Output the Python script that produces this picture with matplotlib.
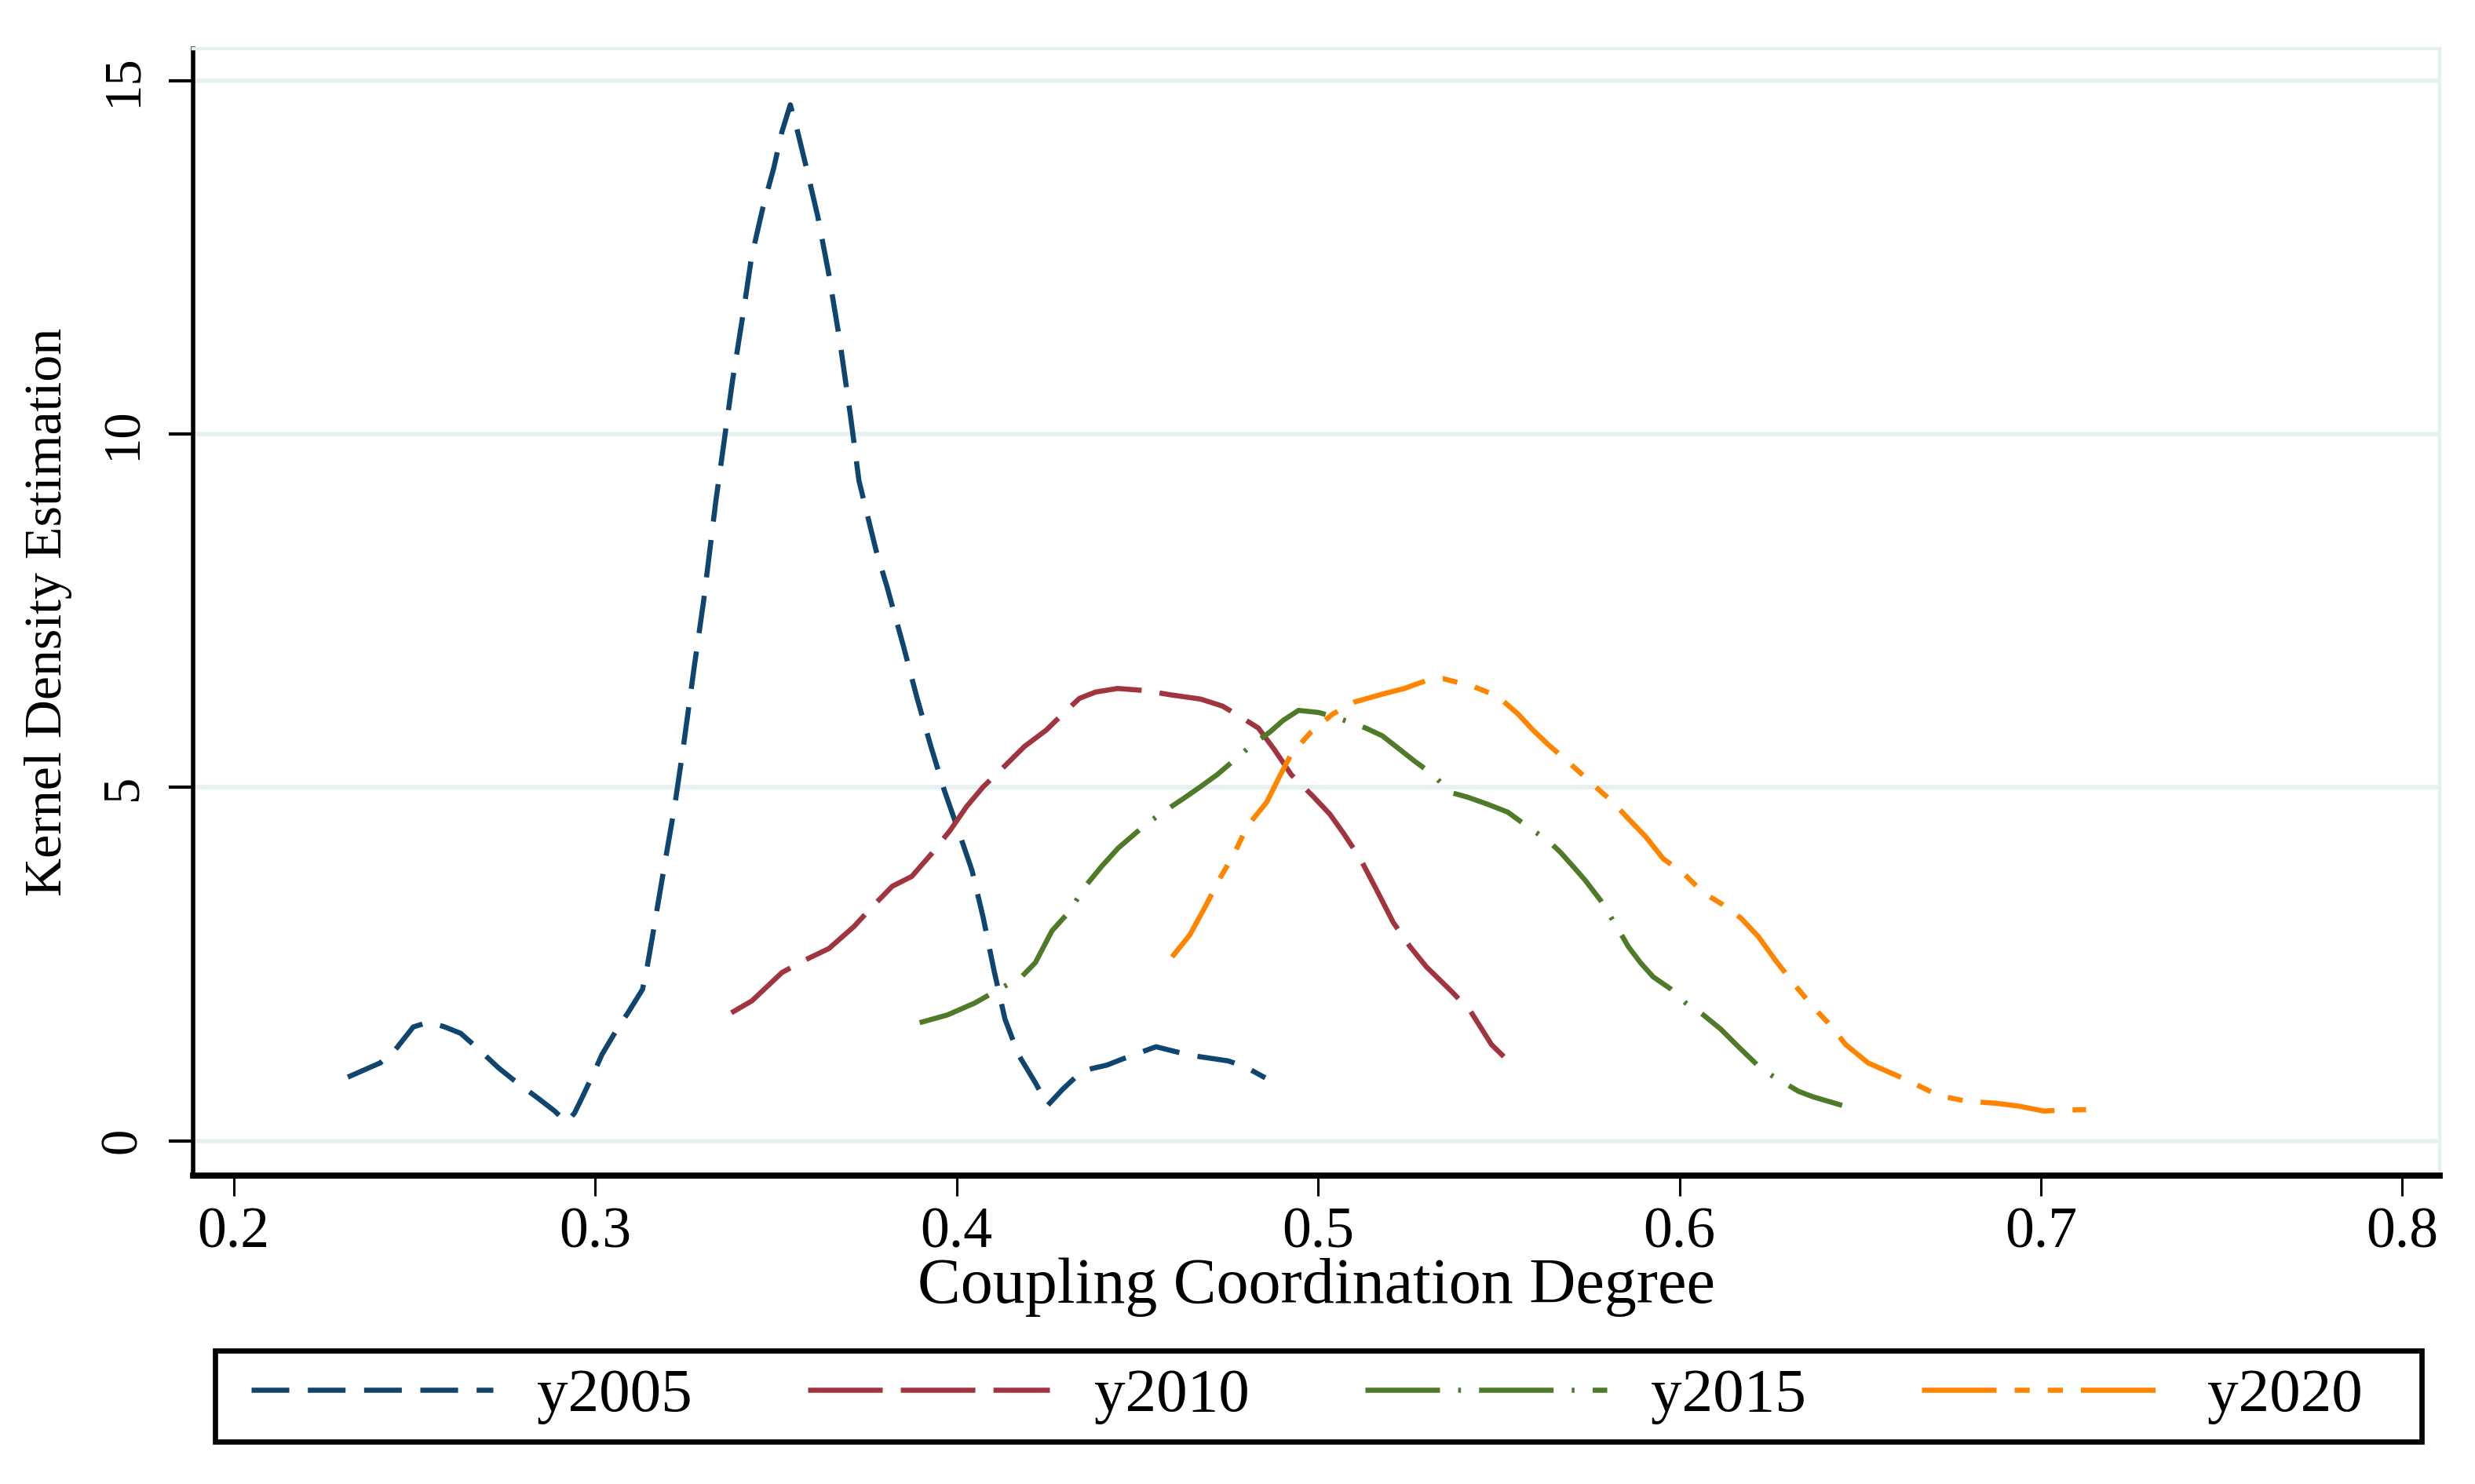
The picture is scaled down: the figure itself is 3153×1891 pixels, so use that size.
import matplotlib
matplotlib.use("Agg")
import matplotlib.pyplot as plt
from matplotlib.path import Path

plt.rcParams['font.family'] = ['Liberation Serif', 'DejaVu Serif']
plt.rcParams['lines.scale_dashes'] = False

# ---- data ----
x2005 = [0.2316, 0.2405, 0.2443, 0.2497, 0.2541, 0.2584, 0.2628, 0.2668, 0.2733, 0.2772,
         0.2845, 0.2888, 0.2921, 0.2943, 0.2964, 0.3000, 0.3019, 0.3062, 0.3091, 0.3131,
         0.3142, 0.3156, 0.3197, 0.3220, 0.3243, 0.3273, 0.3300, 0.3334, 0.3357, 0.3380,
         0.3410, 0.3433, 0.3464, 0.3494, 0.3517, 0.3540, 0.3555, 0.3585, 0.3616, 0.3646,
         0.3677, 0.3707, 0.3730, 0.3777, 0.3807, 0.3853, 0.3891, 0.3929, 0.3966, 0.4005,
         0.4043, 0.4074, 0.4104, 0.4134, 0.4172, 0.4218, 0.4252, 0.4294, 0.4348, 0.4416,
         0.4461, 0.4552, 0.4645, 0.4751, 0.4797, 0.4854]
y2005 = [0.90, 1.10, 1.26, 1.61, 1.68, 1.61, 1.52, 1.34, 1.03, 0.87,
         0.59, 0.42, 0.26, 0.39, 0.61, 1.00, 1.22, 1.59, 1.81, 2.14,
         2.40, 2.81, 4.05, 4.73, 5.53, 6.66, 7.63, 9.05, 9.90, 10.75,
         11.72, 12.51, 13.20, 13.76, 14.28, 14.66, 14.39, 13.76, 13.08, 12.28,
         11.32, 10.24, 9.34, 8.36, 7.85, 7.00, 6.26, 5.58, 4.96, 4.39,
         3.82, 3.15, 2.40, 1.72, 1.21, 0.82, 0.50, 0.73, 0.99, 1.07,
         1.16, 1.33, 1.21, 1.13, 1.05, 0.89]

x2010 = [0.3377, 0.3434, 0.3517, 0.3578, 0.3647, 0.3716, 0.3761, 0.3822, 0.3876, 0.3929,
         0.3982, 0.4028, 0.4074, 0.4127, 0.4188, 0.4248, 0.4294, 0.4340, 0.4385, 0.4446,
         0.4522, 0.4592, 0.4675, 0.4736, 0.4782, 0.4835, 0.4880, 0.4926, 0.4987, 0.5033,
         0.5072, 0.5117, 0.5163, 0.5208, 0.5254, 0.5300, 0.5368, 0.5421, 0.5480, 0.5514]
y2010 = [1.81, 1.98, 2.38, 2.55, 2.72, 3.03, 3.28, 3.60, 3.74, 4.05,
         4.39, 4.73, 5.01, 5.27, 5.58, 5.81, 6.04, 6.26, 6.35, 6.40,
         6.37, 6.31, 6.25, 6.15, 6.01, 5.84, 5.53, 5.18, 4.87, 4.62,
         4.34, 3.99, 3.54, 3.09, 2.75, 2.46, 2.12, 1.84, 1.36, 1.19]

x2015 = [0.3898, 0.3975, 0.4051, 0.4120, 0.4180, 0.4218, 0.4264, 0.4310, 0.4356, 0.4401,
         0.4447, 0.4522, 0.4577, 0.4630, 0.4675, 0.4721, 0.4767, 0.4812, 0.4866, 0.4904,
         0.4946, 0.5002, 0.5056, 0.5132, 0.5178, 0.5223, 0.5265, 0.5318, 0.5366, 0.5415,
         0.5470, 0.5525, 0.5595, 0.5636, 0.5671, 0.5706, 0.5740, 0.5782, 0.5830, 0.5858,
         0.5892, 0.5927, 0.5975, 0.6017, 0.6066, 0.6114, 0.6163, 0.6232, 0.6280, 0.6329,
         0.6370, 0.6450]
y2015 = [1.67, 1.78, 1.95, 2.15, 2.32, 2.52, 2.97, 3.23, 3.60, 3.88,
         4.14, 4.47, 4.67, 4.85, 5.01, 5.18, 5.38, 5.58, 5.78, 5.95,
         6.09, 6.06, 5.98, 5.84, 5.73, 5.55, 5.38, 5.18, 4.93, 4.86,
         4.76, 4.65, 4.39, 4.25, 4.08, 3.88, 3.68, 3.40, 3.00, 2.75,
         2.52, 2.32, 2.15, 1.95, 1.78, 1.58, 1.33, 0.99, 0.85, 0.70,
         0.62, 0.50]

x2020 = [0.4596, 0.4645, 0.4691, 0.4728, 0.4767, 0.4804, 0.4858, 0.4896, 0.4926, 0.4980,
         0.5041, 0.5102, 0.5178, 0.5239, 0.5304, 0.5345, 0.5429, 0.5497, 0.5553, 0.5595,
         0.5636, 0.5699, 0.5761, 0.5816, 0.5858, 0.5907, 0.5955, 0.6010, 0.6066, 0.6120,
         0.6170, 0.6218, 0.6266, 0.6315, 0.6370, 0.6411, 0.6460, 0.6522, 0.6571, 0.6633,
         0.6717, 0.6793, 0.6876, 0.6938, 0.7008, 0.7049, 0.7125]
y2020 = [2.60, 2.91, 3.34, 3.71, 4.05, 4.45, 4.79, 5.18, 5.47, 5.78,
         6.04, 6.21, 6.32, 6.40, 6.52, 6.54, 6.43, 6.29, 6.04, 5.81,
         5.61, 5.33, 5.04, 4.79, 4.56, 4.30, 3.99, 3.79, 3.51, 3.34,
         3.15, 2.89, 2.55, 2.23, 1.89, 1.67, 1.36, 1.10, 0.99, 0.85,
         0.64, 0.56, 0.53, 0.49, 0.42, 0.43, 0.44]

labels = ['y2005', 'y2010', 'y2015', 'y2020']
xticks = [0.2, 0.3, 0.4, 0.5, 0.6, 0.7, 0.8]
xtick_labels = ['0.2', '0.3', '0.4', '0.5', '0.6', '0.7', '0.8']
yticks = [0, 5, 10, 15]
ytick_labels = ['0', '5', '10', '15']

# ---- styles ----
colors = ['#0f456e', '#a0343f', '#4f7a28', '#ff8400']
dashes = [(0, (17.3, 8.5)),
          (0, (34.2, 8.3)),
          (0, (34.2, 8.3, 1.3, 8.3)),
          (0, (34.2, 8.3, 6.9, 8.3, 6.9, 8.3))]
lw = 2.35

fig = plt.figure(figsize=(15.765, 9.455), dpi=200)
ax = fig.add_axes([0.0779, 0.2080, 0.9857 - 0.0779, 0.967 - 0.2080])

series = [(x2005, y2005), (x2010, y2010), (x2015, y2015), (x2020, y2020)]
handles = []
for (xs, ys), c, d, lab in zip(series, colors, dashes, labels):
    h, = ax.plot(xs, ys, color=c, lw=lw, linestyle=d, label=lab, zorder=3,
                 dash_capstyle='butt', solid_capstyle='butt')
    handles.append(h)

ax.set_xlim(0.1887, 0.8103)
ax.set_ylim(-0.49, 15.45)

ax.set_xticks(xticks)
ax.set_xticklabels(xtick_labels)
ax.set_yticks(yticks)
ax.set_yticklabels(ytick_labels, rotation=90, va='center')

grid_c = '#e6eff2'
for yv in yticks:
    ax.axhline(yv, color=grid_c, lw=2.0, zorder=1)

for s in ['top', 'right']:
    ax.spines[s].set_color(grid_c)
    ax.spines[s].set_linewidth(1.6)
ax.spines['left'].set_color('black')
ax.spines['left'].set_linewidth(2.0)
ax.spines['bottom'].set_color('black')
ax.spines['bottom'].set_linewidth(2.8)

ax.tick_params(axis='x', direction='out', length=9.4, width=1.1, pad=5,
               labelsize=26.5, colors='black')
ax.tick_params(axis='y', direction='out', length=11, width=1.5, pad=10,
               labelsize=24, colors='black')

fig.text(0.5318, 0.1222, 'Coupling Coordination Degree', fontsize=29.5,
         ha='center', va='baseline')
fig.text(0.0195, 0.5875, 'Kernel Density Estimation', fontsize=24.5,
         rotation=90, ha='center', va='center')

leg = ax.legend(handles=handles, labels=labels, ncol=4, loc='center',
                bbox_to_anchor=(0.5281, 0.0592), bbox_transform=fig.transFigure,
                frameon=True, fancybox=False, edgecolor='black', framealpha=1,
                fontsize=28.5, borderpad=0.28, handlelength=3.89,
                handletextpad=0.71, columnspacing=1.86, borderaxespad=0)


def legend_box(x0, y0, width, height, mutation_size):
    left = x0 - 0.30 * mutation_size
    right = x0 + width + 0.67 * mutation_size
    return Path([(left, y0), (right, y0), (right, y0 + height),
                 (left, y0 + height), (left, y0)], closed=True)


frame = leg.get_frame()
frame.set_boxstyle(legend_box)
frame.set_linewidth(2.4)

fig.savefig('out.png', dpi=200, facecolor='white')
